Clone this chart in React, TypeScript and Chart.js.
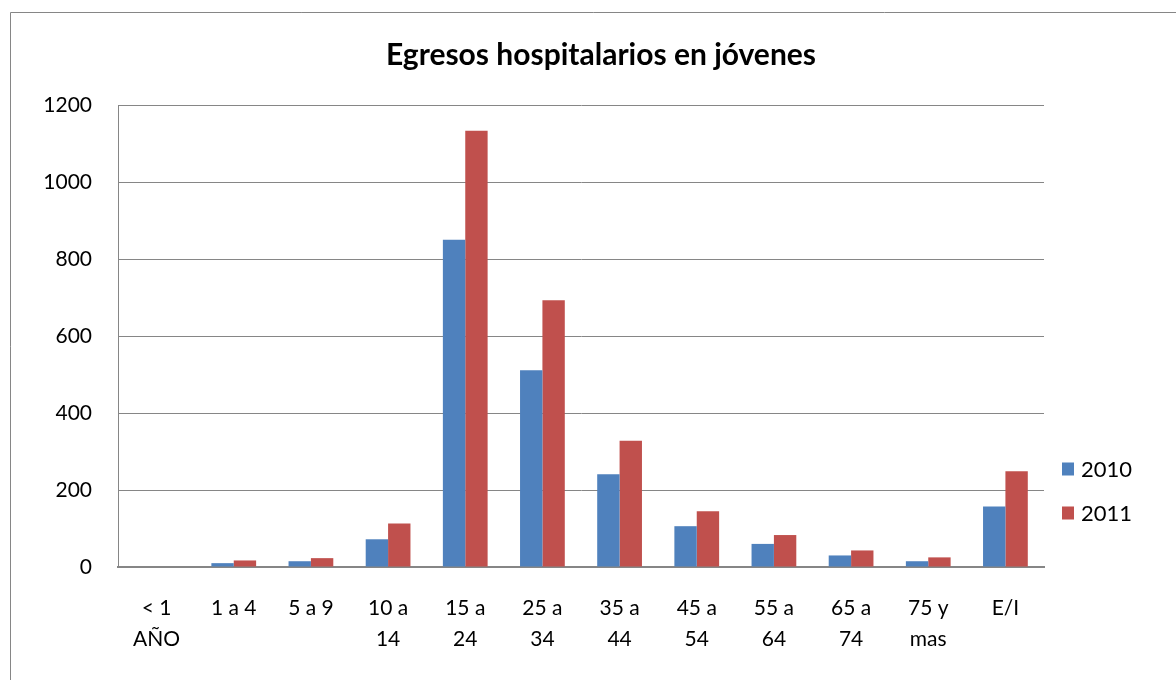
import React, { useEffect, useRef } from "react";
import { Chart, registerables } from "chart.js";

Chart.register(...registerables);

const titleText = "Egresos hospitalarios en jóvenes";
const categories: (string | string[])[] = [
  ["< 1", "AÑO"],
  "1 a 4",
  "5 a 9",
  ["10 a", "14"],
  ["15 a", "24"],
  ["25 a", "34"],
  ["35 a", "44"],
  ["45 a", "54"],
  ["55 a", "64"],
  ["65 a", "74"],
  ["75 y", "mas"],
  "E/I",
];
const values2010 = [0, 10, 15, 72, 850, 511, 241, 106, 60, 30, 15, 157];
const values2011 = [0, 17, 23, 113, 1133, 693, 328, 145, 83, 43, 25, 249];
const seriesNames = ["2010", "2011"];
const yTicks = [0, 200, 400, 600, 800, 1000, 1200];

const FONT = "Lato, 'Open Sans', sans-serif";
const GRID = "#868686";

const framePlugin = {
  id: "frame",
  beforeDraw(chart: any) {
    const { ctx, width, height } = chart;
    ctx.save();
    ctx.fillStyle = "#ffffff";
    ctx.fillRect(0, 0, width, height);
    ctx.strokeStyle = GRID;
    ctx.lineWidth = 1;
    ctx.beginPath();
    ctx.moveTo(10.5, height);
    ctx.lineTo(10.5, 12.5);
    ctx.lineTo(width, 12.5);
    ctx.stroke();
    ctx.restore();
  },
};

const overlayPlugin = {
  id: "overlay",
  afterDraw(chart: any) {
    const { ctx, chartArea } = chart;
    ctx.save();
    // title
    ctx.font = `bold 30px ${FONT}`;
    ctx.fillStyle = "#000000";
    ctx.textAlign = "center";
    ctx.textBaseline = "middle";
    ctx.fillText(titleText, 601, chartArea.top - 50);
    // legend
    const x = chartArea.right + 18;
    const ys = [chartArea.bottom - 98, chartArea.bottom - 54];
    ctx.font = `22px ${FONT}`;
    ctx.textAlign = "left";
    chart.data.datasets.forEach((ds: any, i: number) => {
      const y = ys[i];
      ctx.fillStyle = ds.backgroundColor;
      ctx.fillRect(x, y - 6.5, 12, 13);
      ctx.fillStyle = "#000000";
      ctx.fillText(ds.label, x + 19, y + 1);
    });
    ctx.restore();
  },
};

export default function App() {
  const ref = useRef<HTMLCanvasElement | null>(null);

  useEffect(() => {
    if (!ref.current) return;
    const chart = new Chart(ref.current, {
      type: "bar",
      data: {
        labels: categories,
        datasets: [
          { label: seriesNames[0], data: values2010, backgroundColor: "#4F81BD", borderWidth: 0 },
          { label: seriesNames[1], data: values2011, backgroundColor: "#C0504D", borderWidth: 0 },
        ],
      },
      plugins: [framePlugin, overlayPlugin],
      options: {
        responsive: false,
        animation: false,
        maintainAspectRatio: false,
        layout: { padding: { left: 10, right: 132, top: 105, bottom: 0 } },
        datasets: {
          bar: { barPercentage: 1, categoryPercentage: 0.58 },
        },
        plugins: {
          legend: { display: false },
          tooltip: { enabled: false },
          title: { display: false },
        },
        scales: {
          x: {
            grid: { display: false, drawTicks: false },
            border: { display: true, color: GRID, width: 2 },
            ticks: {
              color: "#000000",
              font: { family: FONT, size: 21, lineHeight: 1.5 },
              padding: 25,
              maxRotation: 0,
              autoSkip: false,
            },
            afterFit(scale: any) {
              scale.height = 113;
            },
          },
          y: {
            min: 0,
            max: 1200,
            afterBuildTicks(scale: any) {
              scale.ticks = yTicks.map((v) => ({ value: v }));
            },
            grid: { color: GRID, lineWidth: 1, drawTicks: false },
            border: { display: true, color: GRID, width: 1 },
            ticks: {
              color: "#000000",
              font: { family: FONT, size: 21 },
              padding: 26,
              callback: (v: any) => String(v),
            },
            afterFit(scale: any) {
              scale.width = 108;
            },
          },
        },
      },
    });
    return () => chart.destroy();
  }, []);

  return (
    <div style={{ position: "fixed", left: 0, top: 0, width: 1176, height: 680, background: "#fff" }}>
      <canvas ref={ref} width={1176} height={680} style={{ display: "block", width: 1176, height: 680 }} />
    </div>
  );
}
